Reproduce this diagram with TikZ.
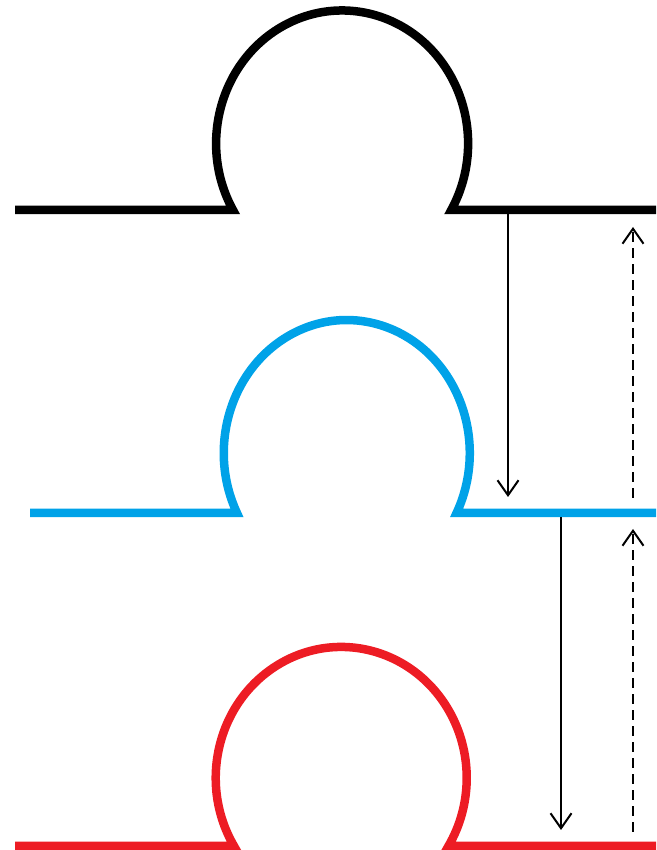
\documentclass[tikz,border=0pt]{standalone}
\usepackage{tikz}
\usetikzlibrary{arrows.meta}
\definecolor{paintblue}{RGB}{0,162,232}
\definecolor{paintred} {RGB}{237,28,36}
\tikzset{
  profile/.style ={line width=8.5pt},
  arr/.style     ={-{Straight Barb[length=15pt,width=21pt,line width=2pt]},
                   line width=2pt, draw=black},
  darr/.style    ={arr, dash pattern=on 10pt off 6pt}
}

\begin{document}
\begin{tikzpicture}[x=1pt,y=1pt]
\useasboundingbox (0,0) rectangle (656,850);

% the three levels
\draw[profile, draw=black] (15,640) -- (233,640)
  arc[start angle=210, end angle=-30, x radius=126, y radius=133] -- (656,640);
\draw[profile, draw=paintblue] (30,337) -- (237,337)
  arc[start angle=206.8, end angle=-26.8, x radius=123, y radius=133] -- (656,337);
\draw[profile, draw=paintred] (15,4) -- (234,4)
  arc[start angle=211.3, end angle=-31.3, x radius=125.5, y radius=131] -- (656,4);

% arrow ends
\coordinate (downA)  at (508,636);
\coordinate (downAe) at (508,353);
\coordinate (downB)  at (561,333);
\coordinate (downBe) at (561,20);
\coordinate (upA)    at (633,352);
\coordinate (upAe)   at (633,623);
\coordinate (upB)    at (633,18);
\coordinate (upBe)   at (633,321);

\draw[arr]  (downA) -- (downAe);
\draw[arr]  (downB) -- (downBe);
\draw[darr] (upA) -- (upAe);
\draw[darr] (upB) -- (upBe);
\end{tikzpicture}
\end{document}
